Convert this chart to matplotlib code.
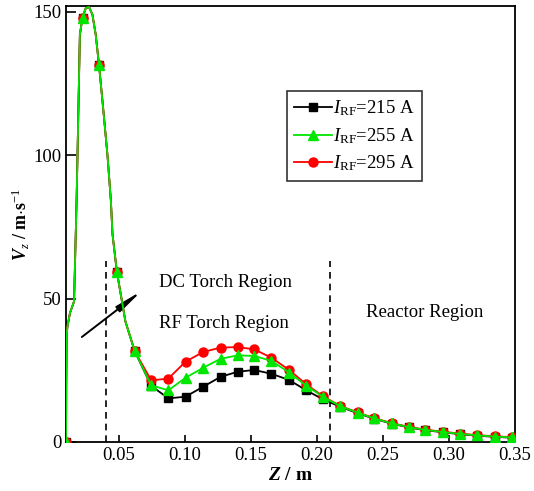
import matplotlib
matplotlib.use("Agg")
import matplotlib.pyplot as plt
from matplotlib.lines import Line2D

plt.rcParams['font.family'] = ['Liberation Serif', 'DejaVu Serif']
plt.rcParams['mathtext.fontset'] = 'custom'
plt.rcParams['mathtext.rm'] = 'Liberation Serif'
plt.rcParams['mathtext.it'] = 'Liberation Serif:italic'
plt.rcParams['mathtext.bf'] = 'Liberation Serif:bold'
plt.rcParams['mathtext.bfit'] = 'Liberation Serif:bold:italic'

# ---- data ----
Z_markers = [0.010, 0.023, 0.035, 0.0485, 0.062, 0.0745, 0.0875, 0.1005, 0.114,
             0.127, 0.140, 0.1525, 0.1655, 0.179, 0.192, 0.2045, 0.2175, 0.231,
             0.2435, 0.2565, 0.2695, 0.282, 0.2955, 0.3085, 0.3215, 0.3345, 0.3475]

V_215 = [0, 147.8, 131.4, 59.4, 31.7, 19.6, 15.2, 15.8, 19.3, 22.7, 24.5, 25.1, 23.8,
         21.6, 18.0, 14.9, 12.3, 10.0, 8.1, 6.4, 5.1, 4.1, 3.4, 2.7, 2.2, 1.8, 1.5]
V_255 = [0, 147.8, 131.4, 59.4, 31.7, 19.8, 18.0, 22.4, 25.9, 29.0, 30.2, 30.0, 28.3,
         24.2, 19.6, 15.8, 12.5, 10.2, 8.2, 6.5, 5.2, 4.2, 3.5, 2.8, 2.3, 1.9, 1.6]
V_295 = [0, 147.8, 131.4, 59.4, 31.7, 21.5, 22.1, 28.0, 31.4, 32.9, 33.1, 32.3, 29.4,
         25.1, 20.1, 16.0, 12.6, 10.3, 8.3, 6.6, 5.3, 4.3, 3.6, 2.9, 2.4, 2.0, 1.7]

# extra curve points read along the jet peak (shared by all three currents)
Z_peak = [0.0100, 0.0102, 0.0105, 0.0110, 0.0130, 0.0161, 0.0180, 0.0187, 0.0205,
          0.0225, 0.0250, 0.0275, 0.0300, 0.0325, 0.0350, 0.0380, 0.0414, 0.0440,
          0.0452, 0.0485, 0.0550]
V_peak = [0, 20, 37, 40, 45, 49, 84, 100, 142,
          148, 151.3, 151.6, 149, 142, 131.4, 117, 100, 84,
          72.5, 59.4, 42]

labels = [r'$I_{\rm RF}$=215 A', r'$I_{\rm RF}$=255 A', r'$I_{\rm RF}$=295 A']
colors = ['black', '#00e600', '#ff0000']
markers = ['s', '^', 'o']
msizes = [5.5, 7, 6.5]
zorders = [2, 4, 3]

xticks = [0.05, 0.10, 0.15, 0.20, 0.25, 0.30, 0.35]
yticks = [0, 50, 100, 150]
region_bounds = [0.04, 0.21]

fig = plt.figure(figsize=(5.34, 4.91), dpi=100)
ax = fig.add_axes([0.1236, 0.0998, 0.9644 - 0.1236, 0.9878 - 0.0998])

all_vals = [V_215, V_255, V_295]
for idx in range(3):
    vals = all_vals[idx]
    lz = Z_peak + Z_markers[4:]
    lv = V_peak + vals[4:]
    ax.plot(lz, lv, color=colors[idx], lw=1.3, zorder=zorders[idx])
    ax.plot(Z_markers, vals, ls='none', marker=markers[idx], ms=msizes[idx],
            color=colors[idx], zorder=zorders[idx])

for xb in region_bounds:
    ax.plot([xb, xb], [0, 63], ls=(0, (4, 3)), color='black', lw=1.2, zorder=1)

ax.annotate('', xy=(0.0674, 52.7), xytext=(0.022, 36.6),
            arrowprops=dict(arrowstyle='-|>,head_length=1.6,head_width=0.2',
                            color='black', lw=1.4, shrinkA=0, shrinkB=0))

ax.text(0.0803, 55.5, 'DC Torch Region', fontsize=13.5, va='center', ha='left')
ax.text(0.0803, 41.2, 'RF Torch Region', fontsize=13.5, va='center', ha='left')
ax.text(0.2818, 45.0, 'Reactor Region', fontsize=13.5, va='center', ha='center')

ax.set_xlim(0.01, 0.35)
ax.set_ylim(0, 152)
ax.set_xticks(xticks)
ax.set_xticklabels([f'{t:.2f}' for t in xticks])
ax.set_yticks(yticks)
ax.tick_params(direction='in', labelsize=13.5, width=1.2)
ax.tick_params(axis='y', length=7)
ax.tick_params(axis='x', length=5)
for s in ax.spines.values():
    s.set_linewidth(1.3)

ax.set_xlabel(r'$\mathbfit{Z}$ / m', fontsize=14, fontweight='bold', labelpad=2)
ax.set_ylabel(r'$\mathbfit{V}_{z}$ / m$\cdot$s$^{-1}$', fontsize=13, fontweight='bold', labelpad=1)

handles = [Line2D([], [], color=colors[i], marker=markers[i], ms=msizes[i], lw=1.3)
           for i in range(3)]
leg = ax.legend(handles, labels, loc='upper left', bbox_to_anchor=(0.492, 0.805),
                fontsize=13.5, frameon=True, fancybox=False, handlelength=2.0,
                handletextpad=0.05, borderpad=0.4, labelspacing=0.42,
                borderaxespad=0)
leg.get_frame().set_edgecolor('black')
leg.get_frame().set_linewidth(1.2)

fig.savefig('out.png', dpi=100)
